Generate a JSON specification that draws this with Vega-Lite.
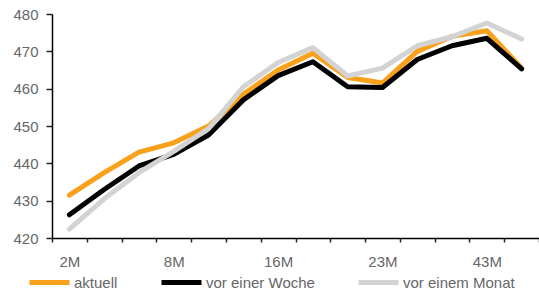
{
  "$schema": "https://vega.github.io/schema/vega-lite/v6.json",
  "width": 487,
  "height": 224,
  "autosize": {"type": "none"},
  "padding": {"left": 52, "top": 14, "right": 0, "bottom": 57},
  "background": "white",
  "config": {"view": {"stroke": null}, "font": "Liberation Sans"},
  "data": {
    "values": [
      {"laufzeit": "2M", "serie": "aktuell", "wert": 431.5},
      {"laufzeit": "4M", "serie": "aktuell", "wert": 437.5},
      {"laufzeit": "6M", "serie": "aktuell", "wert": 443},
      {"laufzeit": "8M", "serie": "aktuell", "wert": 445.5},
      {"laufzeit": "10M", "serie": "aktuell", "wert": 450},
      {"laufzeit": "13M", "serie": "aktuell", "wert": 458.5},
      {"laufzeit": "16M", "serie": "aktuell", "wert": 465},
      {"laufzeit": "18M", "serie": "aktuell", "wert": 469.5},
      {"laufzeit": "21M", "serie": "aktuell", "wert": 463},
      {"laufzeit": "23M", "serie": "aktuell", "wert": 461.5},
      {"laufzeit": "28M", "serie": "aktuell", "wert": 470},
      {"laufzeit": "36M", "serie": "aktuell", "wert": 474},
      {"laufzeit": "43M", "serie": "aktuell", "wert": 475.5},
      {"laufzeit": "48M", "serie": "aktuell", "wert": 465.5},
      {"laufzeit": "2M", "serie": "vor einer Woche", "wert": 426.2},
      {"laufzeit": "4M", "serie": "vor einer Woche", "wert": 433},
      {"laufzeit": "6M", "serie": "vor einer Woche", "wert": 439.3},
      {"laufzeit": "8M", "serie": "vor einer Woche", "wert": 442.4},
      {"laufzeit": "10M", "serie": "vor einer Woche", "wert": 447.6},
      {"laufzeit": "13M", "serie": "vor einer Woche", "wert": 457},
      {"laufzeit": "16M", "serie": "vor einer Woche", "wert": 463.5},
      {"laufzeit": "18M", "serie": "vor einer Woche", "wert": 467.2},
      {"laufzeit": "21M", "serie": "vor einer Woche", "wert": 460.5},
      {"laufzeit": "23M", "serie": "vor einer Woche", "wert": 460.3},
      {"laufzeit": "28M", "serie": "vor einer Woche", "wert": 467.8},
      {"laufzeit": "36M", "serie": "vor einer Woche", "wert": 471.5},
      {"laufzeit": "43M", "serie": "vor einer Woche", "wert": 473.5},
      {"laufzeit": "48M", "serie": "vor einer Woche", "wert": 465.3},
      {"laufzeit": "2M", "serie": "vor einem Monat", "wert": 422.4},
      {"laufzeit": "4M", "serie": "vor einem Monat", "wert": 430.5},
      {"laufzeit": "6M", "serie": "vor einem Monat", "wert": 437.5},
      {"laufzeit": "8M", "serie": "vor einem Monat", "wert": 443.2},
      {"laufzeit": "10M", "serie": "vor einem Monat", "wert": 449.3},
      {"laufzeit": "13M", "serie": "vor einem Monat", "wert": 460.5},
      {"laufzeit": "16M", "serie": "vor einem Monat", "wert": 467},
      {"laufzeit": "18M", "serie": "vor einem Monat", "wert": 471},
      {"laufzeit": "21M", "serie": "vor einem Monat", "wert": 463.4},
      {"laufzeit": "23M", "serie": "vor einem Monat", "wert": 465.5},
      {"laufzeit": "28M", "serie": "vor einem Monat", "wert": 471.5},
      {"laufzeit": "36M", "serie": "vor einem Monat", "wert": 473.9},
      {"laufzeit": "43M", "serie": "vor einem Monat", "wert": 477.6},
      {"laufzeit": "48M", "serie": "vor einem Monat", "wert": 473.3}
    ]
  },
  "mark": {"type": "line", "strokeWidth": 5, "strokeJoin": "round", "strokeCap": "round"},
  "encoding": {
    "x": {
      "field": "laufzeit",
      "type": "ordinal",
      "sort": null,
      "scale": {"type": "band", "paddingInner": 0, "paddingOuter": 0},
      "axis": {
        "title": null,
        "labelExpr": "indexof(['2M','8M','16M','23M','43M'], datum.value) >= 0 ? datum.value : ''",
        "tickBand": "extent",
        "labelAngle": 0,
        "domainColor": "#000000",
        "domainWidth": 1.5,
        "tickColor": "#222222",
        "tickWidth": 1.5,
        "tickSize": 4,
        "labelColor": "#666666",
        "labelFontSize": 15,
        "labelPadding": 12,
        "grid": false
      }
    },
    "y": {
      "field": "wert",
      "type": "quantitative",
      "scale": {"domain": [420, 480], "zero": false, "nice": false},
      "axis": {
        "title": null,
        "values": [420, 430, 440, 450, 460, 470, 480],
        "domainColor": "#000000",
        "domainWidth": 1.5,
        "tickColor": "#222222",
        "tickWidth": 1.5,
        "tickSize": 6,
        "labelColor": "#666666",
        "labelFontSize": 15,
        "labelPadding": 8,
        "grid": false
      }
    },
    "color": {
      "field": "serie",
      "type": "nominal",
      "scale": {
        "domain": ["aktuell", "vor einer Woche", "vor einem Monat"],
        "range": ["#F9A11B", "#000000", "#D3D3D3"]
      },
      "legend": {
        "orient": "none",
        "direction": "horizontal",
        "gridAlign": "none",
        "legendX": -25,
        "legendY": 246,
        "title": null,
        "symbolType": "stroke",
        "symbolSize": 1600,
        "symbolStrokeWidth": 5,
        "labelFontSize": 15,
        "labelColor": "#666666",
        "labelOffset": 2,
        "columnPadding": 33
      }
    }
  }
}
